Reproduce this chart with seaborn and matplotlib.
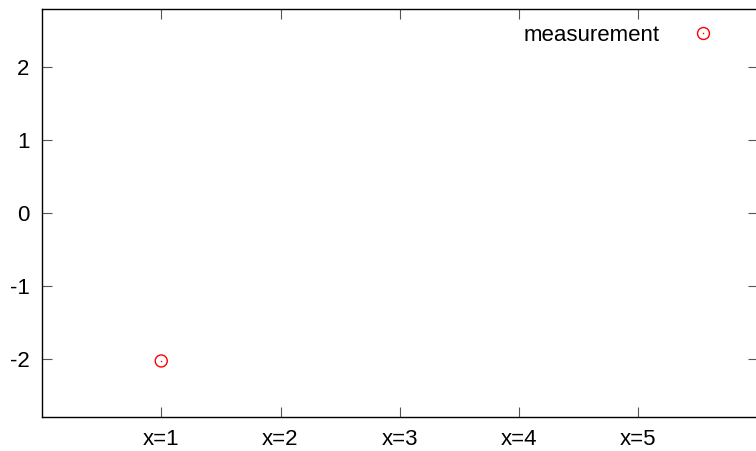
import matplotlib
matplotlib.use("Agg")
import matplotlib.pyplot as plt
from matplotlib.lines import Line2D
from matplotlib.legend_handler import HandlerTuple
import seaborn as sns
import pandas as pd

# measurement data
x_values = [1]
y_values = [-2.02]
tick_positions = [1, 2, 3, 4, 5]
tick_labels = ["x=1", "x=2", "x=3", "x=4", "x=5"]
y_ticks = [-2, -1, 0, 1, 2]
series_name = "measurement"

sns.set_theme(style="white")
plt.rcParams["font.family"] = ["Liberation Sans", "DejaVu Sans"]

df = pd.DataFrame({"x": x_values, "y": y_values})

W, H = 756, 451
fig = plt.figure(figsize=(W / 100, H / 100), dpi=100)
ax = fig.add_axes([42 / W, (H - 417.3) / H, (757.5 - 42) / W, (417.3 - 9) / H])

red = "#ff0000"
sns.scatterplot(data=df, x="x", y="y", ax=ax, marker="o", s=75,
                facecolor="none", edgecolor=red, linewidth=1.0, legend=False)
sns.scatterplot(data=df, x="x", y="y", ax=ax, marker="o", s=1.2,
                color=red, linewidth=0, legend=False)

ax.set_xlim(0, 6)
ax.set_ylim(-2.79, 2.79)
ax.set_xticks(tick_positions)
ax.set_xticklabels(tick_labels)
ax.set_yticks(y_ticks)
ax.set_yticklabels([str(v) for v in y_ticks])
ax.set_xlabel("")
ax.set_ylabel("")

for side in ["left", "right", "top", "bottom"]:
    ax.spines[side].set_visible(True)
    ax.spines[side].set_color("black")
    ax.spines[side].set_linewidth(1.0)

ax.tick_params(axis="both", direction="in", length=7.5, width=0.8,
               color="#555555", labelsize=16, labelcolor="black",
               top=True, right=True, bottom=True, left=True)
ax.tick_params(axis="y", pad=9)
ax.tick_params(axis="x", pad=8.5)

outer = Line2D([], [], linestyle="none", marker="o", markersize=8.6,
               markerfacecolor="none", markeredgecolor=red, markeredgewidth=1.0)
dot = Line2D([], [], linestyle="none", marker="o", markersize=1.1,
             markerfacecolor=red, markeredgecolor=red, markeredgewidth=0)
leg = ax.legend([(outer, dot)], [series_name],
                handler_map={tuple: HandlerTuple(ndivide=1, pad=0)},
                loc="upper right", bbox_to_anchor=((714.1 - 42) / 715.5, 1 - 16 / 408.3),
                frameon=False, markerfirst=False, fontsize=16, handlelength=1.0,
                handletextpad=1.44, borderaxespad=0, borderpad=0)
for t in leg.get_texts():
    t.set_color("black")

fig.savefig("out.png", dpi=100)
